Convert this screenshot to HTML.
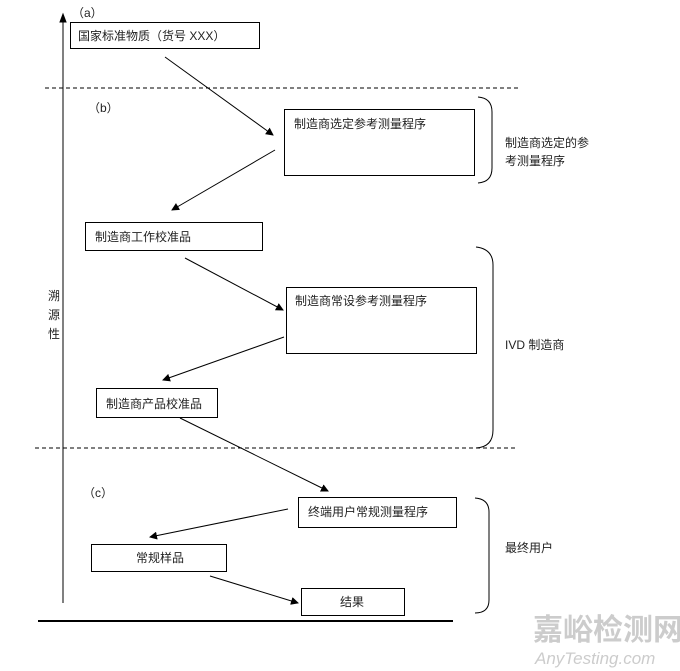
<!DOCTYPE html>
<html><head><meta charset="utf-8">
<style>
html,body{margin:0;padding:0;background:#fff;}
svg{display:block;}
text{font-family:"Liberation Sans","Noto Sans CJK SC",sans-serif;font-size:12px;fill:#222;}
</style></head><body>
<svg width="680" height="671" viewBox="0 0 680 671" xmlns="http://www.w3.org/2000/svg">
<defs>
<marker id="a" markerWidth="8" markerHeight="8" refX="7" refY="4" orient="auto" markerUnits="userSpaceOnUse">
<path d="M0,0 L8,4 L0,8 z" fill="#000"/></marker>
</defs>
<g fill="none" stroke="#000" stroke-width="1">
<!-- axis -->
<line x1="63" y1="603" x2="63" y2="20"/>
<path d="M60,22 L63,14 L66,22 z" fill="#000"/>
<line x1="38" y1="621" x2="453" y2="621" stroke-width="2"/>
<!-- dashed -->
<line x1="45" y1="88" x2="520" y2="88" stroke-dasharray="4,3"/>
<line x1="35" y1="448" x2="515" y2="448" stroke-dasharray="4,3"/>
<!-- boxes -->
<rect x="70.5" y="22.5" width="189" height="26"/>
<rect x="284.5" y="109.5" width="190" height="66"/>
<rect x="85.5" y="222.5" width="177" height="28"/>
<rect x="286.5" y="287.5" width="190" height="66"/>
<rect x="96.5" y="388.5" width="121" height="29"/>
<rect x="298.5" y="497.5" width="158" height="30"/>
<rect x="91.5" y="544.5" width="135" height="27"/>
<rect x="301.5" y="588.5" width="103" height="27"/>
<!-- arrows -->
<line x1="165" y1="57" x2="273" y2="135" marker-end="url(#a)"/>
<line x1="275" y1="150" x2="172" y2="210" marker-end="url(#a)"/>
<line x1="185" y1="258" x2="283" y2="310" marker-end="url(#a)"/>
<line x1="284" y1="337" x2="163" y2="380" marker-end="url(#a)"/>
<line x1="180" y1="418" x2="328" y2="491" marker-end="url(#a)"/>
<line x1="288" y1="509" x2="150" y2="537" marker-end="url(#a)"/>
<line x1="210" y1="576" x2="298" y2="603" marker-end="url(#a)"/>
<!-- braces -->
<path d="M478,97 Q492,98 492,112 L492,168 Q492,182 478,183"/>
<path d="M476,247 Q493,249 493,265 L493,430 Q493,447 476,448"/>
<path d="M475,498 Q489,499 489,512 L489,600 Q489,613 475,613"/>
</g>
<text x="72" y="17">（a）</text>
<text x="78" y="40">国家标准物质（货号 XXX）</text>
<text x="88" y="112">（b）</text>
<text x="294" y="128">制造商选定参考测量程序</text>
<text x="505" y="147">制造商选定的参</text>
<text x="505" y="165">考测量程序</text>
<text x="95" y="241">制造商工作校准品</text>
<text x="295" y="305">制造商常设参考测量程序</text>
<text x="505" y="349">IVD 制造商</text>
<text x="106" y="408">制造商产品校准品</text>
<text x="48" y="300">溯</text>
<text x="48" y="319">源</text>
<text x="48" y="338">性</text>
<text x="83" y="497">（c）</text>
<text x="308" y="516">终端用户常规测量程序</text>
<text x="505" y="552">最终用户</text>
<text x="136" y="562">常规样品</text>
<text x="340" y="606">结果</text>
<text x="533" y="640" style="font-size:30px;fill:#ccc;font-weight:bold">嘉峪检测网</text>
<text x="535" y="664" style="font-size:17px;fill:#ccc;font-style:italic">AnyTesting.com</text>
</svg>
</body></html>
